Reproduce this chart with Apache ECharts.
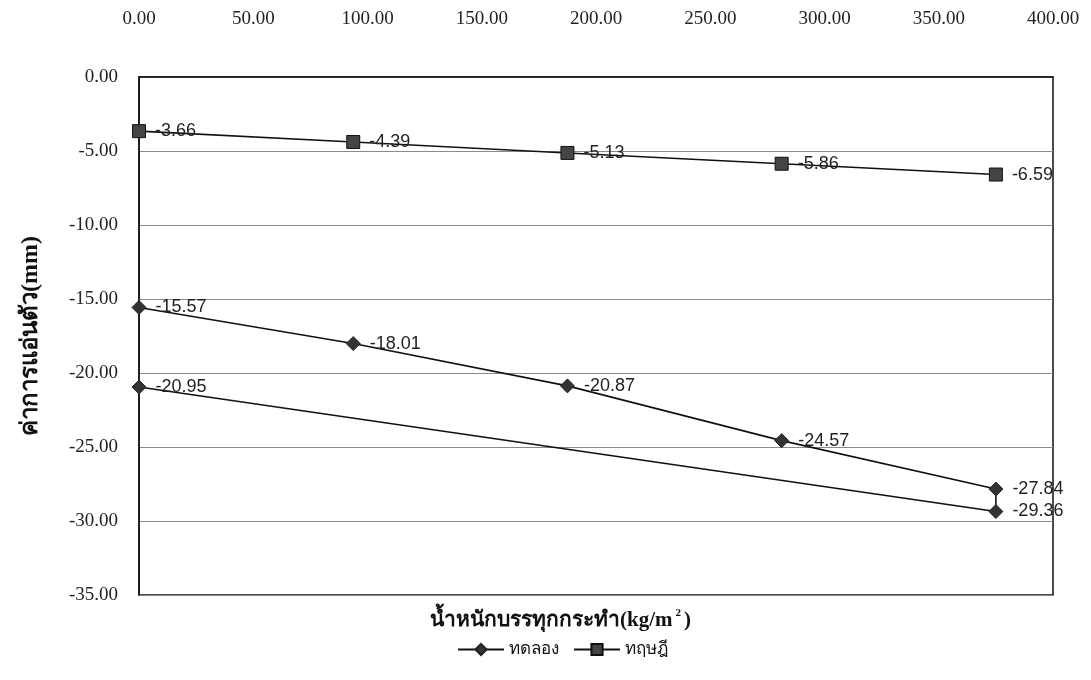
<!DOCTYPE html>
<html>
<head>
<meta charset="utf-8">
<script src="https://cdn.jsdelivr.net/npm/echarts@6/dist/echarts.min.js"></script>
<style>
  html, body { margin: 0; padding: 0; background: #fff; }
  #chart { width: 1091px; height: 680px; }
</style>
</head>
<body>
<div id="chart"></div>
<script>
// Loads (kg/m2) and deflections (mm)
const testLoads = [0, 93.75, 187.5, 281.25, 375, 375, 0];
const testDeflection = [-15.57, -18.01, -20.87, -24.57, -27.84, -29.36, -20.95];
const theoryLoads = [0, 93.75, 187.5, 281.25, 375];
const theoryDeflection = [-3.66, -4.39, -5.13, -5.86, -6.59];

const seriesNames = ['ทดลอง', 'ทฤษฎี'];
const xTitle = 'น้ำหนักบรรทุกกระทำ(kg/m';
const yTitle = 'ค่าการแอ่นตัว(mm)';

const pairs = (xs, ys) => xs.map((x, i) => [x, ys[i]]);

const serif = '"Liberation Serif", "DejaVu Serif", serif';
const sans = '"Liberation Sans", Arial, sans-serif';

const labelStyle = {
  show: true,
  position: 'right',
  distance: 9,
  color: '#222',
  fontFamily: sans,
  fontSize: 18,
  formatter: p => p.value[1].toFixed(2)
};

const chart = echarts.init(document.getElementById('chart'), null, { renderer: 'canvas' });
chart.setOption({
  backgroundColor: '#ffffff',
  animation: false,
  grid: {
    left: 139, right: 38, top: 77, bottom: 85,
    show: true, borderColor: '#111', borderWidth: 1.5, backgroundColor: 'transparent'
  },
  xAxis: {
    type: 'value',
    position: 'top',
    min: 0, max: 400, interval: 50,
    axisLine: { show: true, lineStyle: { color: '#111', width: 1.5 } },
    axisTick: { show: false },
    splitLine: { show: false },
    axisLabel: {
      margin: 48,
      color: '#222',
      fontFamily: serif,
      fontSize: 19,
      formatter: v => v.toFixed(2)
    }
  },
  yAxis: {
    type: 'value',
    min: -35, max: 0, interval: 5,
    name: yTitle,
    nameLocation: 'middle',
    nameRotate: 90,
    nameGap: 96,
    nameTextStyle: { fontFamily: serif, fontWeight: 'bold', fontSize: 24, color: '#111' },
    axisLine: { show: true, lineStyle: { color: '#111', width: 1.5 } },
    axisTick: { show: false },
    splitLine: { show: true, lineStyle: { color: '#8a8a8a', width: 1 } },
    axisLabel: {
      margin: 21,
      color: '#222',
      fontFamily: serif,
      fontSize: 19,
      formatter: v => v.toFixed(2)
    }
  },
  legend: {
    bottom: 17,
    left: 452,
    itemWidth: 46,
    itemHeight: 14,
    itemGap: 14,
    textStyle: { fontFamily: serif, fontSize: 17, color: '#111' },
    data: seriesNames
  },
  graphic: [{
    type: 'text',
    left: 430,
    top: 608,
    style: {
      text: xTitle + '{sup|2}' + ')',
      fontFamily: serif,
      fontWeight: 'bold',
      fontSize: 21,
      fill: '#111',
      rich: {
        sup: { fontFamily: serif, fontWeight: 'bold', fontSize: 11, verticalAlign: 'top', padding: [0, 3, 14, 3] }
      }
    }
  }],
  series: [
    {
      name: seriesNames[0],
      type: 'line',
      data: pairs(testLoads, testDeflection),
      symbol: 'diamond',
      symbolSize: 14,
      showAllSymbol: true,
      lineStyle: { color: '#111', width: 1.6 },
      itemStyle: { color: '#333', borderColor: '#222', borderWidth: 1 },
      label: labelStyle,
      z: 3
    },
    {
      name: seriesNames[1],
      type: 'line',
      data: pairs(theoryLoads, theoryDeflection),
      symbol: 'rect',
      symbolSize: 13,
      lineStyle: { color: '#111', width: 1.6 },
      itemStyle: { color: '#444', borderColor: '#111', borderWidth: 1 },
      label: labelStyle,
      z: 3
    }
  ]
});
</script>
</body>
</html>
